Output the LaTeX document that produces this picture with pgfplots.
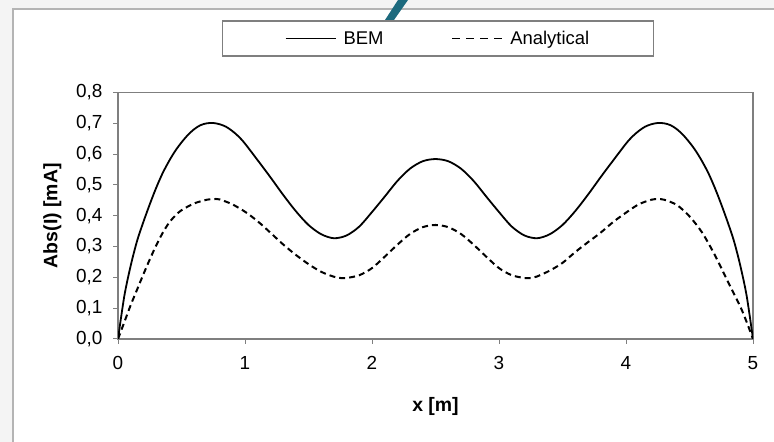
\documentclass[border=0pt]{standalone}
\usepackage{fontspec}
\setmainfont{Liberation Sans}
\usepackage{pgfplots}
\pgfplotsset{compat=1.18}
\definecolor{framegray}{HTML}{B4B4B4}
\definecolor{axisgray}{HTML}{7F7F7F}
\definecolor{slidebg}{HTML}{F4F4F4}
\definecolor{slideteal}{HTML}{1D6A7E}

% Abs(I) along the conductor
\pgfplotstableread{
x     bem
0.00  0.000
0.05  0.140
0.10  0.238
0.15  0.318
0.20  0.380
0.25  0.437
0.30  0.490
0.35  0.537
0.40  0.576
0.45  0.610
0.50  0.638
0.55  0.662
0.60  0.681
0.65  0.694
0.70  0.700
0.75  0.701
0.80  0.697
0.85  0.689
0.90  0.675
0.95  0.657
1.00  0.634
1.10  0.580
1.20  0.525
1.30  0.468
1.40  0.415
1.50  0.370
1.60  0.340
1.70  0.327
1.80  0.336
1.90  0.365
2.00  0.412
2.10  0.462
2.20  0.513
2.30  0.553
2.40  0.577
2.50  0.584
2.60  0.577
2.70  0.553
2.80  0.513
2.90  0.462
3.00  0.412
3.10  0.365
3.20  0.336
3.30  0.327
3.40  0.340
3.50  0.370
3.60  0.415
3.70  0.468
3.80  0.525
3.90  0.580
4.00  0.634
4.05  0.657
4.10  0.675
4.15  0.689
4.20  0.697
4.25  0.701
4.30  0.700
4.35  0.694
4.40  0.681
4.45  0.662
4.50  0.638
4.55  0.610
4.60  0.576
4.65  0.537
4.70  0.490
4.75  0.437
4.80  0.380
4.85  0.318
4.90  0.238
4.95  0.140
5.00  0.000
}\bemdata

\pgfplotstableread{
x     ana
0.00  0.000
0.05  0.055
0.10  0.110
0.15  0.160
0.20  0.210
0.25  0.258
0.30  0.303
0.35  0.343
0.40  0.376
0.45  0.400
0.50  0.418
0.60  0.440
0.70  0.452
0.75  0.454
0.80  0.453
0.90  0.437
1.00  0.413
1.10  0.382
1.20  0.345
1.30  0.307
1.40  0.273
1.50  0.243
1.60  0.218
1.70  0.202
1.75  0.198
1.80  0.198
1.90  0.207
2.00  0.230
2.10  0.267
2.20  0.306
2.30  0.341
2.40  0.363
2.50  0.370
2.60  0.363
2.70  0.341
2.80  0.306
2.90  0.267
3.00  0.230
3.10  0.207
3.20  0.198
3.25  0.198
3.30  0.203
3.40  0.222
3.50  0.247
3.60  0.282
3.70  0.314
3.80  0.345
3.90  0.380
4.00  0.410
4.10  0.437
4.20  0.452
4.25  0.454
4.30  0.452
4.40  0.435
4.50  0.398
4.60  0.345
4.70  0.272
4.80  0.188
4.90  0.105
4.95  0.055
5.00  0.000
}\anadata

\begin{document}
\begin{tikzpicture}[x=1bp,y=1bp]
\useasboundingbox (0,0) rectangle (774,442);
% screenshot surround
\fill[slidebg] (0,0) rectangle (774,442);
\fill[white] (13,0) rectangle (780,433);
\draw[framegray, line width=1.5bp] (13,-2) -- (13,433) -- (780,433);
\fill[slideteal] (398,442) -- (408,442) -- (394,422) -- (385,422) -- cycle;

\begin{axis}[
    at={(118bp,103bp)}, anchor=south west,
    width=635bp, height=246.5bp, scale only axis,
    xmin=0, xmax=5, ymin=0, ymax=0.8,
    xtick={0,1,2,3,4,5}, ytick={0,0.1,...,0.8},
    axis line style={axisgray, line width=1.2bp},
    tick style={axisgray, line width=1bp},
    tick align=outside, major tick length=5bp,
    xtick pos=bottom, ytick pos=left,
    tick label style={font=\fontsize{19}{21}\selectfont, black},
    /pgf/number format/assume math mode=true,
    yticklabel style={xshift=-7bp, /pgf/number format/.cd, fixed, fixed zerofill, precision=1, use comma},
    xticklabel style={yshift=-9bp},
    xlabel={\textbf{x [m]}},
    ylabel={\textbf{Abs(I) [mA]}},
    label style={font=\fontsize{19.5}{22}\selectfont},
    xlabel style={yshift=-21bp},
    ylabel style={yshift=8bp},
    legend columns=2,
    legend style={at={(0.504,1.219)}, anchor=center, draw=axisgray, line width=1.2bp,
      font=\fontsize{18.5}{21}\selectfont, inner xsep=62bp, inner ysep=8bp,
      /tikz/every odd column/.append style={column sep=5bp},
      /tikz/every even column/.append style={column sep=66bp}},
    legend image code/.code={\draw[#1, line width=1.8bp] (0,0) -- (50bp,0);},
]
\addplot[black, line width=1.8bp, smooth] table[x=x, y=bem] {\bemdata};
\addlegendentry{BEM}
\addplot[black, line width=2bp, dash pattern=on 6bp off 4bp, smooth,
    legend image post style={dash pattern=on 8bp off 6bp}] table[x=x, y=ana] {\anadata};
\addlegendentry{Analytical}
\end{axis}
\end{tikzpicture}
\end{document}
